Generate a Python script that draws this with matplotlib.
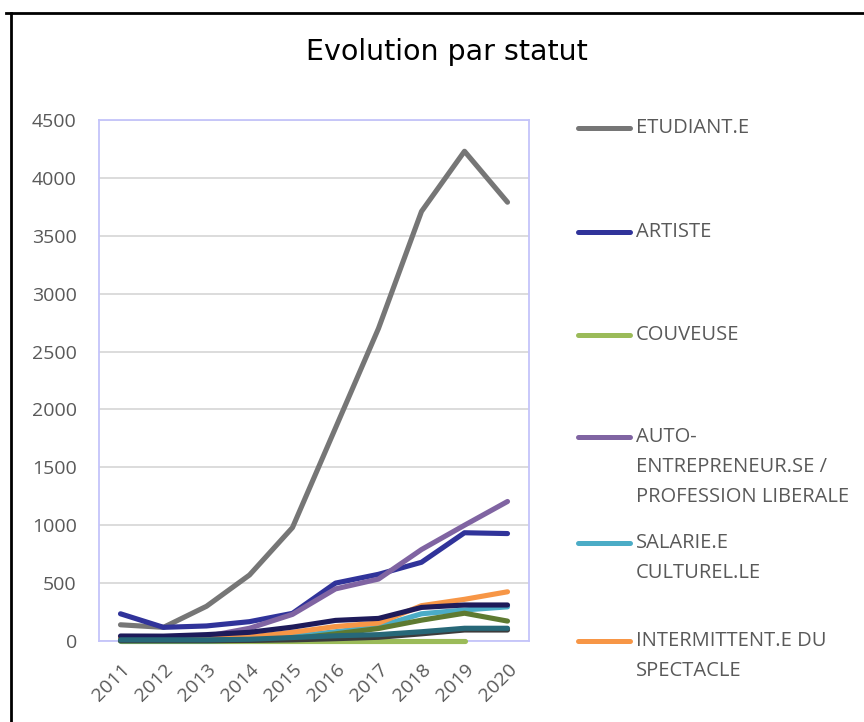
import matplotlib
matplotlib.use("Agg")
import matplotlib.pyplot as plt
from matplotlib.lines import Line2D

years = ["2011", "2012", "2013", "2014", "2015", "2016", "2017", "2018", "2019", "2020"]

etudiant = [140, 118, 300, 570, 980, 1840, 2700, 3710, 4230, 3790]
artiste = [235, 118, 130, 167, 239, 500, 576, 680, 935, 928]
couveuse = [3, 3, 3, 3, 3, 3, 3, 3, 3, None]
auto = [20, 15, 40, 110, 230, 450, 535, 790, 1000, 1205]
salarie = [0, 0, 0, 10, 40, 80, 125, 235, 268, 295]
intermittent = [30, 20, 20, 35, 75, 125, 155, 305, 360, 425]
serie7 = [43, 42, 55, 75, 120, 178, 195, 290, 311, 311]
serie8 = [0, 0, 0, 5, 20, 62, 108, 180, 240, 172]
serie9 = [5, 5, 5, 5, 10, 20, 32, 62, 95, 95]
serie10 = [10, 10, 10, 15, 30, 45, 55, 80, 110, 110]

legend_labels = [
    "ETUDIANT.E",
    "ARTISTE",
    "COUVEUSE",
    "AUTO-\nENTREPRENEUR.SE /\nPROFESSION LIBERALE",
    "SALARIE.E\nCULTUREL.LE",
    "INTERMITTENT.E DU\nSPECTACLE",
]

series = [etudiant, artiste, couveuse, auto, salarie, intermittent,
          serie7, serie8, serie9, serie10]
colors = ["#767676", "#30339A", "#9BBB59", "#8064A2", "#4BACC6", "#F79646",
          "#1E1B5A", "#5E7A31", "#3C3C3C", "#276878"]

TXT = "#595959"
fig = plt.figure(figsize=(8.64, 7.22), dpi=100)
ax = fig.add_axes([99/864, 1-641/722, 430/864, 521/722])

x = list(range(len(years)))
for vals, c in zip(series, colors):
    xs = [xi for xi, v in zip(x, vals) if v is not None]
    ys = [v for v in vals if v is not None]
    ax.plot(xs, ys, color=c, lw=3.7, solid_capstyle="round",
            solid_joinstyle="round", clip_on=False, zorder=3)

ax.set_xlim(-0.5, len(years) - 0.5)
ax.set_ylim(0, 4500)
ax.set_yticks(range(0, 4501, 500))
ax.set_xticks(x)
ax.set_xticklabels(years, rotation=45, ha="right", va="top",
                   rotation_mode="anchor", fontsize=14, color=TXT,
                   family="Open Sans")
ax.set_yticklabels([str(v) for v in range(0, 4501, 500)], fontsize=14,
                   color=TXT, family="Open Sans")
ax.tick_params(axis="y", length=0, pad=16)
ax.tick_params(axis="x", length=0, pad=14)
ax.grid(axis="y", color="#D9D9D9", lw=1.3)
ax.set_axisbelow(True)
for s in ax.spines.values():
    s.set_color("#C4C4FA")
    s.set_linewidth(1.3)

fig.text(447/864, 1-52/722, "Evolution par statut", ha="center", va="center",
         fontsize=20.5, color="black", family="DejaVu Sans")

# legend (manual)
leg_y = [128, 232, 335, 437, 543, 641]
for lab, c, yy in zip(legend_labels, colors[:6], leg_y):
    fig.add_artist(Line2D([578/864, 630/864], [1-yy/722, 1-yy/722],
                          color=c, lw=3.6, solid_capstyle="round",
                          transform=fig.transFigure))
    for i, line in enumerate(lab.split("\n")):
        fig.text(636/864, 1-(yy + 30*i)/722, line, ha="left", va="center",
                 fontsize=14.5, color=TXT, family="Open Sans")

# outer frame (partial)
fig.add_artist(Line2D([6/864, 1.0], [1-13/722, 1-13/722], color="black",
                      lw=2, transform=fig.transFigure))
fig.add_artist(Line2D([11/864, 11/864], [1-13/722, 0], color="black",
                      lw=2, transform=fig.transFigure))

fig.savefig("out.png", dpi=100)
